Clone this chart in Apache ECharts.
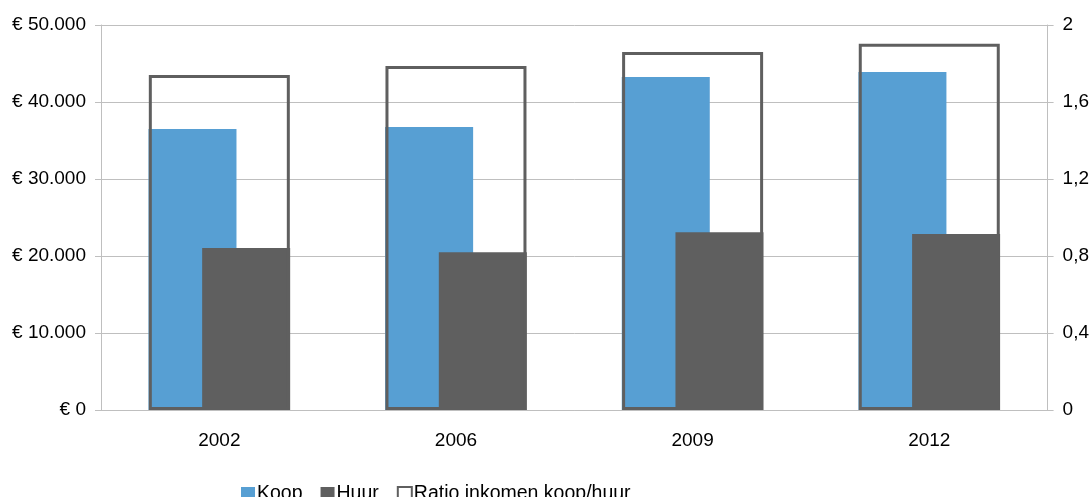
<!DOCTYPE html>
<html>
<head>
<meta charset="utf-8">
<script src="https://cdn.jsdelivr.net/npm/echarts@6/dist/echarts.min.js"></script>
<style>
  html, body { margin: 0; padding: 0; background: #fff; }
  #chart { width: 1092px; height: 497px; }
</style>
</head>
<body>
<div id="chart"></div>
<script>
// values
const years = ['2002', '2006', '2009', '2012']
const koop = [36500, 36750, 43250, 43900]
const huur = [21050, 20500, 23100, 22850]
const ratio = [1.74, 1.787, 1.86, 1.902]

const blue = '#579fd3'
const grey = '#5f5f5f'
const lineGrey = '#bfbfbf'
const font = 'Liberation Sans, Arial, sans-serif'

const chart = echarts.init(document.getElementById('chart'))

const eur = (v) => (v === 0 ? '€ 0' : '€ ' + v / 1000 + '.000')
const comma = (v) => String(Number(v.toFixed(1))).replace('.', ',')

chart.setOption({
  animation: false,
  grid: { left: 101, right: 43, top: 25, bottom: 87 },
  legend: {
    left: 236,
    top: 479,
    icon: 'rect',
    itemWidth: 14,
    itemHeight: 14,
    itemGap: 18,
    textStyle: { fontFamily: font, fontSize: 19.5, color: '#000', padding: [0, 0, 0, -3] },
    data: ['Koop', 'Huur', 'Ratio inkomen koop/huur'],
  },
  xAxis: [
    {
      type: 'category',
      data: years,
      axisLine: { lineStyle: { color: lineGrey, width: 1 } },
      axisTick: { length: 6, lineStyle: { color: lineGrey } },
      axisLabel: { fontFamily: font, fontSize: 19, color: '#000', margin: 21 },
    },
    { type: 'category', data: years, show: false },
  ],
  yAxis: [
    {
      type: 'value',
      min: 0,
      max: 50000,
      interval: 10000,
      axisLine: { show: true, lineStyle: { color: lineGrey } },
      axisTick: { show: true, length: 6, lineStyle: { color: lineGrey } },
      splitLine: { lineStyle: { color: lineGrey } },
      axisLabel: { fontFamily: font, fontSize: 19, color: '#000', margin: 15, formatter: eur },
    },
    {
      type: 'value',
      min: 0,
      max: 2,
      interval: 0.4,
      axisLine: { show: true, lineStyle: { color: lineGrey } },
      axisTick: { show: true, length: 6, lineStyle: { color: lineGrey } },
      splitLine: { show: false },
      axisLabel: { fontFamily: font, fontSize: 19, color: '#000', margin: 15, formatter: comma },
    },
  ],
  series: [
    {
      name: 'Koop',
      type: 'bar',
      data: koop,
      barWidth: 88,
      barGap: '-39%',
      itemStyle: { color: blue },
      z: 2,
    },
    {
      name: 'Huur',
      type: 'bar',
      data: huur,
      barWidth: 88,
      itemStyle: { color: grey },
      z: 3,
    },
    {
      name: 'Ratio inkomen koop/huur',
      type: 'bar',
      xAxisIndex: 1,
      yAxisIndex: 1,
      data: ratio,
      barWidth: 141,
      itemStyle: { color: 'rgba(255,255,255,0)', borderColor: grey, borderWidth: 3 },
      z: 4,
    },
  ],
})
</script>
</body>
</html>
